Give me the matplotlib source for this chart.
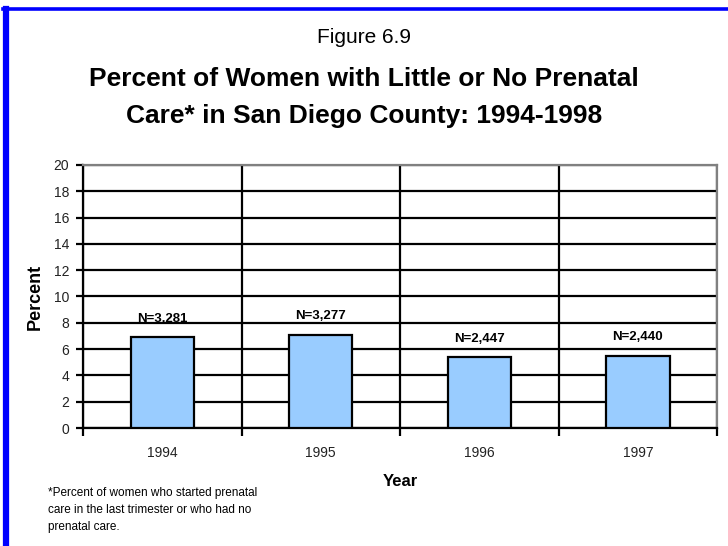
import matplotlib
matplotlib.use("Agg")
import matplotlib.pyplot as plt
from matplotlib.lines import Line2D

# data
years = ["1994", "1995", "1996", "1997"]
percent = [6.9, 7.1, 5.4, 5.5]
n_labels = ["N=3,281", "N=3,277", "N=2,447", "N=2,440"]
y_ticks = [0, 2, 4, 6, 8, 10, 12, 14, 16, 18, 20]

plt.rcParams['font.family'] = ['Liberation Sans', 'DejaVu Sans']

fig = plt.figure(figsize=(7.28, 5.46), dpi=100)
fig.patch.set_facecolor("white")

# blue frame (left + top)
fig.add_artist(Line2D([0.0082, 0.0082], [0.006, 0.984], color="#0000ff", lw=4.5,
                      transform=fig.transFigure))
fig.add_artist(Line2D([0.004, 1.0], [0.984, 0.984], color="#0000ff", lw=2.6,
                      transform=fig.transFigure))

ax = fig.add_axes([0.114, 0.216, 0.871, 0.482])
x = list(range(len(years)))
ax.bar(x, percent, width=0.4, color="#99ccff", edgecolor="black", linewidth=1.6, zorder=3)

for xi, v, lab in zip(x, percent, n_labels):
    ax.annotate(lab, (xi, v), xytext=(0, 9), textcoords="offset points",
                ha="center", va="bottom", fontsize=9.5, fontweight="bold")

ax.set_xlim(-0.5, len(years) - 0.5)
ax.set_ylim(0, 20)
ax.set_yticks(y_ticks)
ax.set_xticks(x)
ax.set_xticklabels(years, fontsize=10, color="#222222")
ax.set_xticks([i - 0.5 for i in range(len(years) + 1)], minor=True)
ax.tick_params(axis="x", which="major", length=0, pad=13)
ax.tick_params(axis="x", which="minor", length=6, width=1.6, direction="out")
ax.tick_params(axis="y", length=5, width=1.6, direction="out", labelsize=10,
               labelcolor="#222222", pad=5)

ax.grid(axis="y", color="black", linewidth=1.6, zorder=0)
ax.grid(axis="x", which="minor", color="black", linewidth=1.6, zorder=0)
ax.set_axisbelow(True)

for side in ["left", "bottom"]:
    ax.spines[side].set_color("black")
    ax.spines[side].set_linewidth(1.6)
for side in ["top", "right"]:
    ax.spines[side].set_color("#808080")
    ax.spines[side].set_linewidth(1.6)

ax.set_ylabel("Percent", fontsize=13, fontweight="bold", labelpad=7)
ax.set_xlabel("Year", fontsize=12, fontweight="bold", labelpad=10)

fig.text(0.5, 0.931, "Figure 6.9", ha="center", va="center", fontsize=15)
fig.text(0.5, 0.856, "Percent of Women with Little or No Prenatal",
         ha="center", va="center", fontsize=19, fontweight="bold")
fig.text(0.5, 0.788, "Care* in San Diego County: 1994-1998",
         ha="center", va="center", fontsize=19, fontweight="bold")

fig.text(0.066, 0.066, "*Percent of women who started prenatal\ncare in the last trimester or who had no\nprenatal care.",
         ha="left", va="center", fontsize=8.5, linespacing=1.55)

fig.savefig("out.png", dpi=100)
